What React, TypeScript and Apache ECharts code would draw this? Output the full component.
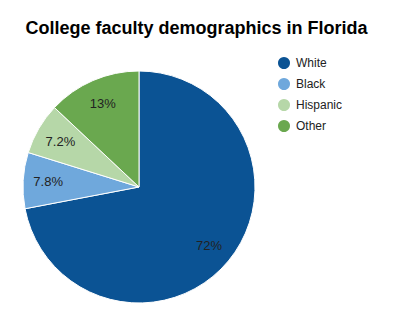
import React, { useEffect, useRef } from "react";
import * as echarts from "echarts";

const categories = ["White", "Black", "Hispanic", "Other"];
const values = [72, 7.8, 7.2, 13];
const colors = ["#0b5394", "#6fa8dc", "#b6d7a8", "#6aa84f"];
const titleText = "College faculty demographics in Florida";

export default function App() {
  const ref = useRef<HTMLDivElement>(null);
  useEffect(() => {
    document.body.style.margin = "0";
    const chart = echarts.init(ref.current!, null, { renderer: "svg" });
    const data = categories.map((name, i) => ({ name, value: values[i] }));
    chart.setOption({
      animation: false,
      color: colors,
      title: {
        text: titleText,
        left: "center",
        top: 14,
        textStyle: { fontFamily: "Liberation Sans, Arial", fontWeight: "bold", fontSize: 18, color: "#000" },
      },
      legend: {
        orient: "vertical",
        left: 271,
        top: 50,
        icon: "circle",
        itemWidth: 14,
        itemHeight: 14,
        itemGap: 5,
        textStyle: { fontFamily: "Liberation Sans, Arial", fontSize: 12, color: "#222" },
        data: categories,
      },
      series: [
        {
          type: "pie",
          center: [139, 187],
          radius: [0, 116],
          startAngle: 90,
          clockwise: true,
          silent: true,
          itemStyle: { borderColor: "#fff", borderWidth: 1 },
          label: { show: false },
          labelLine: { show: false },
          data,
        },
        {
          type: "pie",
          center: [139, 187],
          radius: [60, 116],
          startAngle: 90,
          clockwise: true,
          silent: true,
          legendHoverLink: false,
          itemStyle: { color: "rgba(0,0,0,0)" },
          label: {
            show: true,
            position: "inside",
            formatter: (p: any) => p.value + "%",
            fontFamily: "Liberation Sans, Arial",
            fontSize: 13,
            color: "#222",
          },
          labelLine: { show: false },
          data: data.map((d) => ({ ...d, name: "_" + d.name })),
        },
      ],
    });
    return () => chart.dispose();
  }, []);
  return <div ref={ref} style={{ position: "absolute", left: 0, top: 0, width: 393, height: 330 }} />;
}
